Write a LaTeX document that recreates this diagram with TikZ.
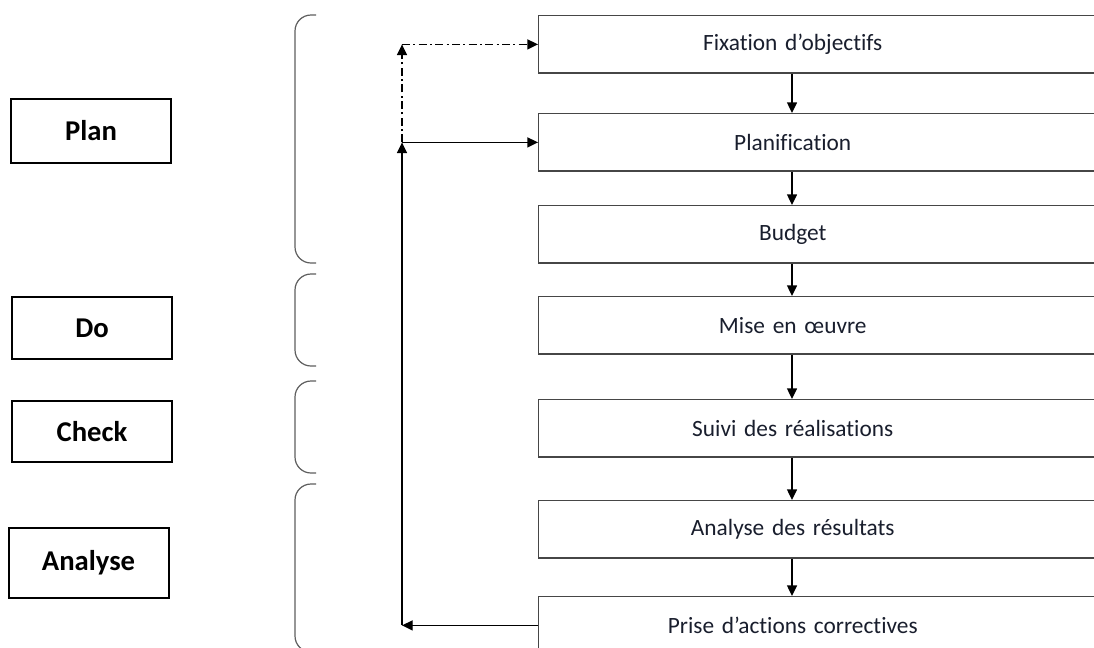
\documentclass[tikz,border=0pt]{standalone}
\usepackage{fontspec}
\setmainfont{Carlito}[Ligatures=NoCommon]
\usetikzlibrary{arrows.meta,calc}
\definecolor{boxline}{RGB}{70,70,70}
\definecolor{txt}{RGB}{25,30,45}
\definecolor{brk}{RGB}{95,95,95}
\newcommand\boxtext[1]{\makebox[381pt]{#1}}
\begin{document}
\begin{tikzpicture}[x=0.75pt,y=-0.75pt,
  stepbox/.style={draw=boxline,line width=1.1pt,anchor=north west,inner sep=0pt,
    text width=450pt,align=left,minimum height=43pt,text=txt,
    font=\fontsize{17.5}{21}\selectfont},
  phasebox/.style={draw=black,line width=1.5pt,minimum width=120pt,inner sep=0pt,
    font=\fontsize{21.5}{26}\selectfont\bfseries},
  bracket/.style={draw=brk,line width=0.9pt,rounded corners=12pt},
  arr/.style={-{Triangle[length=8pt,width=7.5pt]},line width=1pt,black},
  dashdot/.style={dash pattern=on 6pt off 2.5pt on 1.5pt off 2.5pt}]
\useasboundingbox (0,0) rectangle (1094,647);
\fill[white] (0,0) rectangle (1094,647);
\clip (0,0) rectangle (1094,647);

% process boxes
\node[stepbox] (fix) at (538,15) {\boxtext{Fixation d’objectifs}};
\node[stepbox] (plan) at (538,113) {\boxtext{Planification}};
\node[stepbox] (bud) at (538,205) {\boxtext{Budget}};
\node[stepbox] (mise) at (538,296) {\boxtext{Mise en œuvre}};
\node[stepbox] (suivi) at (538,399) {\boxtext{Suivi des réalisations}};
\node[stepbox] (ana) at (538,500) {\boxtext{Analyse des résultats}};
\node[stepbox] (prise) at (538,596) {\boxtext{Prise d’actions correctives}};

% phase boxes
\node[phasebox,minimum height=48pt] (pPlan) at (91,131) {Plan};
\node[phasebox,minimum height=46.5pt] (pDo) at (92,328) {Do};
\node[phasebox,minimum height=46pt] (pCheck) at (92,431.5) {Check};
\node[phasebox,minimum height=52.5pt] (pAna) at (88.5,563) {Analyse};

% brackets
\draw[bracket] (316,15) -- (295,15) -- (295,263) -- (316,263);
\draw[bracket] (316,274) -- (295,274) -- (295,366) -- (316,366);
\draw[bracket] (316,381) -- (295,381) -- (295,473) -- (316,473);
\draw[bracket] (316,484) -- (295,484) -- (295,652) -- (316,652);

% main flow
\coordinate (mid) at (792,0);
\draw[arr] (fix.south -| mid) -- (plan.north -| mid);
\draw[arr] (plan.south -| mid) -- (bud.north -| mid);
\draw[arr] (bud.south -| mid) -- (mise.north -| mid);
\draw[arr] (mise.south -| mid) -- (suivi.north -| mid);
\draw[arr] (suivi.south -| mid) -- (ana.north -| mid);
\draw[arr] (ana.south -| mid) -- (prise.north -| mid);

% feedback loop
\coordinate (fbx) at (402,0);
\coordinate (fbb) at (prise.west -| fbx);
\coordinate (junc) at (plan.west -| fbx);
\coordinate (ftop) at (fix.west -| fbx);
\draw[arr] (prise.west) -- (fbb);
\draw[arr] (fbb) -- (junc);
\draw[arr] (junc) -- (plan.west);
\draw[arr,dashdot] (junc) -- (ftop);
\draw[arr,dashdot] (ftop) -- (fix.west);
\end{tikzpicture}
\end{document}
